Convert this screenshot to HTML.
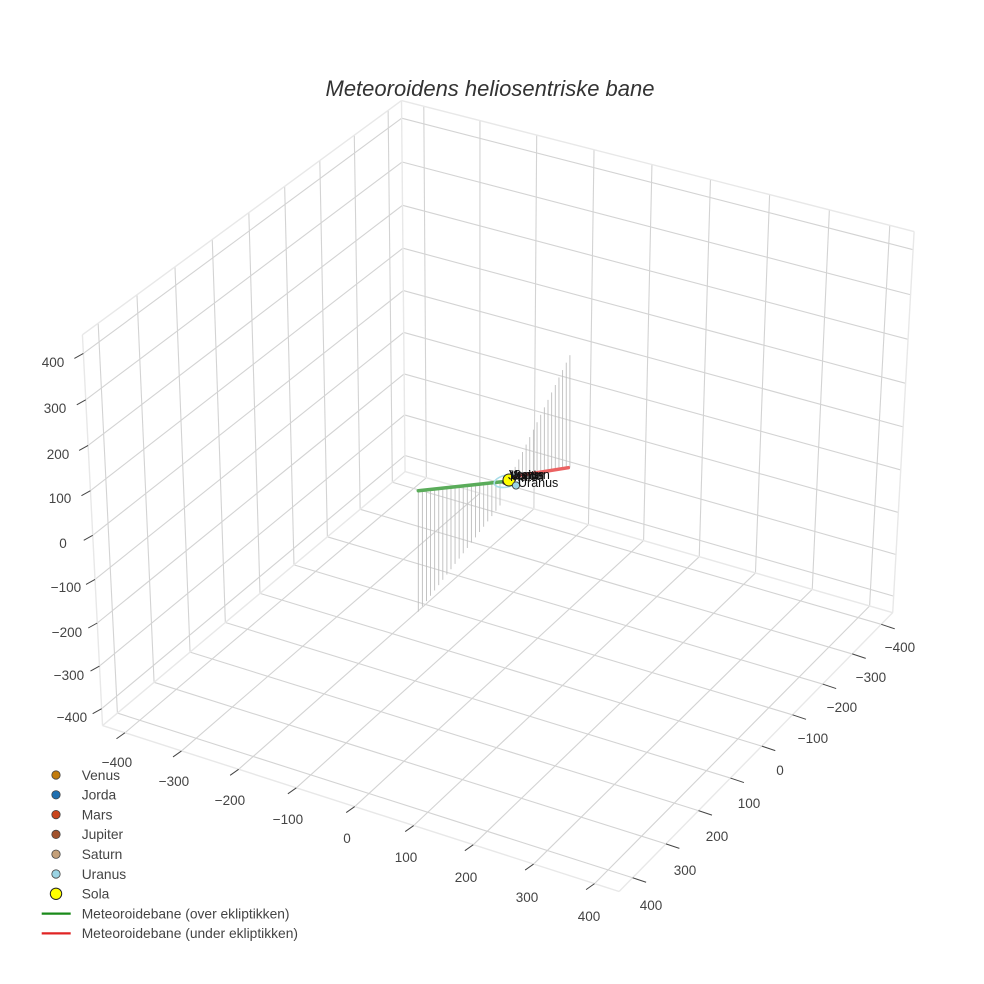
<!DOCTYPE html>
<html><head><meta charset="utf-8">
<style>
html,body{margin:0;padding:0;background:#fff;}
svg{display:block;font-family:"Liberation Sans",Arial,sans-serif;}
</style></head>
<body>
<svg id="s" width="984" height="984" viewBox="0 0 984 984" xmlns="http://www.w3.org/2000/svg">
<rect width="984" height="984" fill="#fff"/>
<g id="grid"></g>
<g id="edges"></g>
<g id="ticks"></g>
<g id="drops"></g>
<g id="data">
  <line x1="418.3" y1="490.7" x2="503" y2="481.6" stroke="#5aac5a" stroke-width="3.5" stroke-linecap="round"/>
  <line x1="510" y1="477" x2="568.3" y2="467.7" stroke="#eb6262" stroke-width="3.5" stroke-linecap="round"/>
  <ellipse cx="507" cy="481" rx="13" ry="6" transform="rotate(-12 507 481)" fill="none" stroke="#a8dce8" stroke-width="1.6"/>
  <circle cx="505" cy="482" r="2.5" fill="#a0522d" stroke="#333" stroke-width="0.8"/>
  <circle cx="511" cy="478" r="2.5" fill="#c8451c" stroke="#333" stroke-width="0.8"/>
  <circle cx="509" cy="480" r="6" fill="#ffff00" stroke="#222" stroke-width="1"/>
  <circle cx="516" cy="485.5" r="3.6" fill="#9bd4e4" stroke="#333" stroke-width="0.8"/>
  <g font-size="12.5" fill="#111">
    <text x="509" y="479">Venus</text>
    <text x="512" y="480">Jorda</text>
    <text x="510" y="481">Mars</text>
    <text x="508" y="479.5">Jupiter</text>
    <text x="513" y="479">Saturn</text>
    <text x="518" y="487">Uranus</text>
  </g>
</g>
<g id="ticklabels" font-size="13.5" fill="#444" text-anchor="middle">
  <text x="53" y="366.8">400</text>
  <text x="55" y="412.8">300</text>
  <text x="58" y="458.8">200</text>
  <text x="60" y="502.8">100</text>
  <text x="63" y="547.8">0</text>
  <text x="66" y="591.8">−100</text>
  <text x="67" y="636.8">−200</text>
  <text x="69" y="679.8">−300</text>
  <text x="72" y="721.8">−400</text>

  <text x="117" y="766.8">−400</text>
  <text x="174" y="785.8">−300</text>
  <text x="230" y="804.8">−200</text>
  <text x="288" y="823.8">−100</text>
  <text x="347" y="842.8">0</text>
  <text x="406" y="861.8">100</text>
  <text x="466" y="881.8">200</text>
  <text x="527" y="901.8">300</text>
  <text x="589" y="920.8">400</text>

  <text x="900" y="651.8">−400</text>
  <text x="871" y="681.8">−300</text>
  <text x="842" y="711.8">−200</text>
  <text x="813" y="742.8">−100</text>
  <text x="780" y="774.8">0</text>
  <text x="749" y="807.8">100</text>
  <text x="717" y="840.8">200</text>
  <text x="685" y="874.8">300</text>
  <text x="651" y="909.8">400</text>
</g>
<text x="490" y="96" font-size="22" font-style="italic" fill="#333" text-anchor="middle">Meteoroidens heliosentriske bane</text>
<g id="legend" font-size="13.8" fill="#444">
  <circle cx="56" cy="775" r="4.2" fill="#c27c0e" stroke="#444" stroke-width="0.8"/>
  <text x="81.7" y="779.8">Venus</text>
  <circle cx="56" cy="794.8" r="4.2" fill="#1f6fb0" stroke="#444" stroke-width="0.8"/>
  <text x="81.7" y="799.6">Jorda</text>
  <circle cx="56" cy="814.6" r="4.2" fill="#c8451c" stroke="#444" stroke-width="0.8"/>
  <text x="81.7" y="819.4">Mars</text>
  <circle cx="56" cy="834.4" r="4.2" fill="#a0522d" stroke="#444" stroke-width="0.8"/>
  <text x="81.7" y="839.2">Jupiter</text>
  <circle cx="56" cy="854.2" r="4.2" fill="#c4a07a" stroke="#444" stroke-width="0.8"/>
  <text x="81.7" y="859">Saturn</text>
  <circle cx="56" cy="874" r="4.2" fill="#9bd4e4" stroke="#444" stroke-width="0.8"/>
  <text x="81.7" y="878.8">Uranus</text>
  <circle cx="56" cy="893.8" r="5.7" fill="#ffff00" stroke="#222" stroke-width="1"/>
  <text x="81.7" y="898.6">Sola</text>
  <line x1="41.7" y1="913.6" x2="70.7" y2="913.6" stroke="#1a8a1a" stroke-width="2.2"/>
  <text x="81.7" y="918.4">Meteoroidebane (over ekliptikken)</text>
  <line x1="41.7" y1="933.4" x2="70.7" y2="933.4" stroke="#e02424" stroke-width="2.2"/>
  <text x="81.7" y="938.2">Meteoroidebane (under ekliptikken)</text>
</g>
</svg>
<script>
(function(){
const R=440;
const P=[
 [-R,-R,R,400,102],
 [R,-R,R,81,333],
 [-R,R,R,912,230],
 [R,-R,-R,100,727],
 [-R,R,-R,893,611],
 [R,R,-R,618,893],
 [-R,-R,-R,403.5,473],
 [R,-R,400,83,352],
 [R,-R,-400,100,707],
 [-R,R,400,911.5,249],
 [-R,R,-400,896,595],
 [-400,R,-R,879,622],
 [-100,R,-R,790,713],
 [0,R,-R,759,746],
 [100,R,-R,727,778],
 [200,R,-R,695,811],
 [300,R,-R,662,844],
 [400,R,-R,629,878],
 [R,-400,-R,128,733],
 [R,-200,-R,245,770],
 [R,-100,-R,302,789],
 [R,400,-R,602,887],
 [400,-R,R,98,321],
 [-400,-R,R,388,111],
 [-R,400,R,893,226],
 [-R,300,R,832,212],
 [-R,-400,R,428,109],
 [-R,-R,400,400,119],
 [-R,-R,0,401.5,289],
 [-R,-R,-200,402.5,373],
 [-R,400,-R,877,607],
 [400,-R,-R,116,712]
];
const N=11;
const M=[];for(let i=0;i<N;i++){M.push(new Array(N).fill(0));}
const bb=new Array(N).fill(0);
function addRow(r,y){for(let i=0;i<N;i++){bb[i]+=r[i]*y;for(let j=0;j<N;j++)M[i][j]+=r[i]*r[j];}}
for(const q of P){const X=q[0]/R,Y=q[1]/R,Z=q[2]/R,U=(q[3]-490)/400,V=(q[4]-490)/400;
 addRow([X,Y,Z,1,0,0,0,0,-U*X,-U*Y,-U*Z],U);
 addRow([0,0,0,0,X,Y,Z,1,-V*X,-V*Y,-V*Z],V);}
function solve(A,b){const n=b.length;
 for(let i=0;i<n;i++){let m=i;for(let k=i+1;k<n;k++)if(Math.abs(A[k][i])>Math.abs(A[m][i]))m=k;
  let t=A[i];A[i]=A[m];A[m]=t;t=b[i];b[i]=b[m];b[m]=t;
  for(let k=i+1;k<n;k++){const f=A[k][i]/A[i][i];for(let j=i;j<n;j++)A[k][j]-=f*A[i][j];b[k]-=f*b[i];}}
 const x=new Array(n).fill(0);
 for(let i=n-1;i>=0;i--){let s=b[i];for(let j=i+1;j<n;j++)s-=A[i][j]*x[j];x[i]=s/A[i][i];}
 return x;}
const p=solve(M,bb);
function pr(x,y,z){const X=x/R,Y=y/R,Z=z/R;const w=p[8]*X+p[9]*Y+p[10]*Z+1;
 return [490+400*(p[0]*X+p[1]*Y+p[2]*Z+p[3])/w,490+400*(p[4]*X+p[5]*Y+p[6]*Z+p[7])/w];}
const NS='http://www.w3.org/2000/svg';
function ln(g,a,b,col,w){const e=document.createElementNS(NS,'line');
 e.setAttribute('x1',a[0].toFixed(2));e.setAttribute('y1',a[1].toFixed(2));
 e.setAttribute('x2',b[0].toFixed(2));e.setAttribute('y2',b[1].toFixed(2));
 e.setAttribute('stroke',col);e.setAttribute('stroke-width',w);g.appendChild(e);}
const G=document.getElementById('grid'),E=document.getElementById('edges'),T=document.getElementById('ticks'),D=document.getElementById('drops');
const gc='#d3d3d3',gw=1.1;
for(let v=-400;v<=400;v+=100){
 ln(G,pr(v,-R,-R),pr(v,-R,R),gc,gw);
 ln(G,pr(-R,-R,v),pr(R,-R,v),gc,gw);
 ln(G,pr(-R,v,-R),pr(-R,v,R),gc,gw);
 ln(G,pr(-R,-R,v),pr(-R,R,v),gc,gw);
 ln(G,pr(v,-R,-R),pr(v,R,-R),gc,gw);
 ln(G,pr(-R,v,-R),pr(R,v,-R),gc,gw);
}
const ec='#e8e8e8',ew=1.4;
const A=pr(-R,-R,R),B=pr(R,-R,R),C=pr(-R,R,R),Dd=pr(R,-R,-R),Ee=pr(-R,R,-R),F=pr(R,R,-R),Gg=pr(-R,-R,-R);
ln(E,A,B,ec,ew);ln(E,A,C,ec,ew);ln(E,B,Dd,ec,ew);ln(E,C,Ee,ec,ew);ln(E,Dd,F,ec,ew);ln(E,Ee,F,ec,ew);
ln(E,A,Gg,ec,ew);ln(E,Gg,Dd,ec,ew);ln(E,Gg,Ee,ec,ew);
const tc='#444';
for(let v=-400;v<=400;v+=100){
 let a=pr(v,R,-R);ln(T,a,[a[0]+13.5,a[1]+4.5],tc,1);
 a=pr(R,v,-R);ln(T,a,[a[0]-8.5,a[1]+6],tc,1);
 a=pr(R,-R,v);ln(T,a,[a[0]-9,a[1]+5],tc,1);
}
const dc='#bdbdbd';
for(let i=0;i<21;i++){const u=418.3+i*4.085;const top=490.7-(u-418.3)*0.106;const bot=611.7-(u-418.3)*1.3;
 if(bot>top+1)ln(D,[u,top],[u,bot],dc,0.9);}
for(let i=0;i<17;i++){const u=511.5+i*3.65;const bot=477-(u-510)*0.16;const top=355+(570-u)*2.04;
 if(bot>top+1)ln(D,[u,top],[u,bot],dc,0.9);}
})();
</script>
</body></html>
